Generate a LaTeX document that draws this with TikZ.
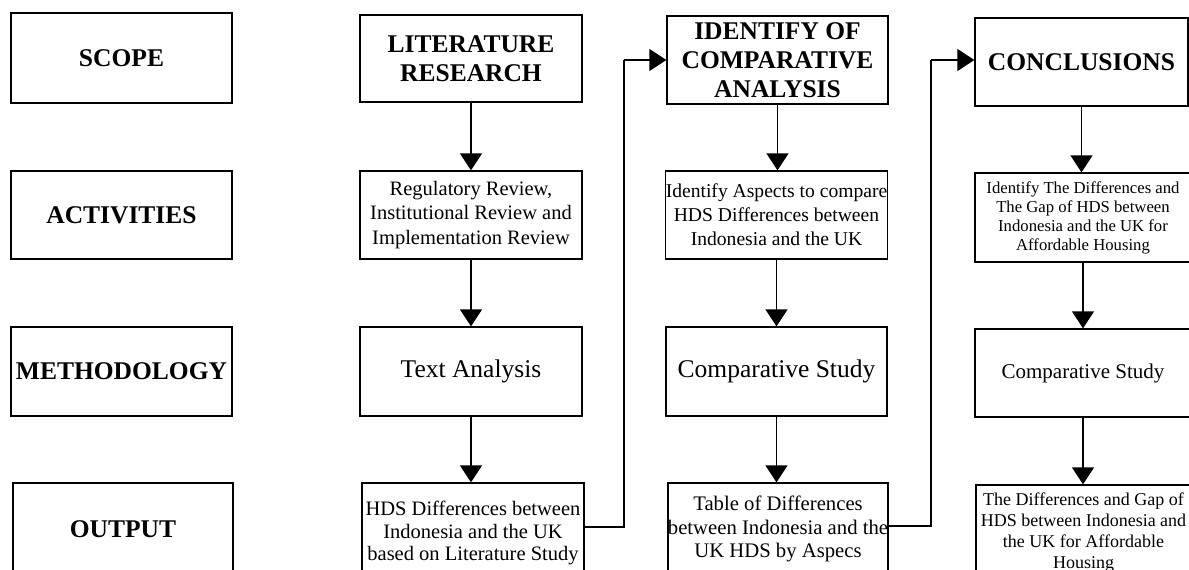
\documentclass[tikz,border=0pt]{standalone}
\usepackage{fontspec}
\setmainfont{Liberation Serif}
\usetikzlibrary{arrows.meta}
\newcommand\bx[7]{\node[box,#6,minimum width={(#3)-(#1)},minimum height={(#4)-(#2)}] (#5) at ({((#1)+(#3))/2},{((#2)+(#4))/2}) {#7};}
\tikzset{
  box/.style={draw, line width=1.3pt, inner sep=0pt, align=center},
  hd/.style={font=\bfseries\fontsize{25.5}{28.5}\selectfont},
  hdthree/.style={font=\bfseries\fontsize{25.5}{29}\selectfont},
  big/.style={font=\fontsize{25.5}{28}\selectfont},
  mid/.style={font=\fontsize{21}{24}\selectfont},
  actone/.style={font=\fontsize{20.5}{24.5}\selectfont},
  acttwo/.style={font=\fontsize{19.6}{24}\selectfont},
  actthree/.style={font=\fontsize{16.7}{19}\selectfont},
  outone/.style={font=\fontsize{20.5}{22.5}\selectfont},
  outtwo/.style={font=\fontsize{20.7}{23.5}\selectfont},
  outthree/.style={font=\fontsize{18}{21}\selectfont},
  arr/.style={line width=1.3pt, -{Triangle[width=22pt,length=17pt]}},
  conn/.style={line width=1.3pt}
}
\begin{document}
\begin{tikzpicture}[x=1pt,y=-1pt]
\useasboundingbox (0,0) rectangle (1189,570);
\clip (0,0) rectangle (1189,570);
% left column
\bx{11}{13}{232}{103}{c0r1}{hd}{SCOPE}
\bx{11}{171}{232}{259}{c0r2}{hd}{ACTIVITIES}
\bx{11}{327}{232}{416}{c0r3}{hd}{METHODOLOGY}
\bx{13}{483}{233}{575}{c0r4}{hd}{OUTPUT}
% column 1
\bx{360}{15}{582}{102}{c1r1}{hd}{LITERATURE\\RESEARCH}
\bx{360}{171}{582}{259}{c1r2}{actone}{Regulatory Review,\\Institutional Review and\\Implementation Review}
\bx{360}{327}{582}{416}{c1r3}{big}{Text Analysis}
\bx{362}{483}{584}{583}{c1r4}{outone}{HDS Differences between\\Indonesia and the UK\\based on Literature Study}
% column 2
\bx{667}{16}{888}{104}{c2r1}{hdthree}{IDENTIFY OF\\COMPARATIVE\\ANALYSIS}
\bx{666}{171}{887}{259}{c2r2}{acttwo}{Identify Aspects to compare\\HDS Differences between\\Indonesia and the UK}
\bx{666}{327}{887}{416}{c2r3}{big}{Comparative Study}
\bx{668}{483}{888}{575}{c2r4}{outtwo}{Table of Differences\\between Indonesia and the\\UK HDS by Aspecs}
% column 3
\bx{975}{18}{1188}{106}{c3r1}{hd}{CONCLUSIONS}
\bx{975}{173}{1191}{262}{c3r2}{actthree}{Identify The Differences and\\The Gap of HDS between\\Indonesia and the UK for\\Affordable Housing}
\bx{975}{329}{1191}{417}{c3r3}{mid}{Comparative Study}
\bx{976}{485}{1191}{580}{c3r4}{outthree}{The Differences and Gap of\\HDS between Indonesia and\\the UK for Affordable\\Housing}
% vertical arrows
\foreach \c in {1,2,3}{
  \draw[arr] (c\c r1.south) -- (c\c r1.south |- c\c r2.north);
  \draw[arr] (c\c r2.south) -- (c\c r2.south |- c\c r3.north);
  \draw[arr] (c\c r3.south) -- (c\c r3.south |- c\c r4.north);
}
% cross connectors
\coordinate (ja) at (624,527);
\coordinate (jb) at (624,60);
\coordinate (ka) at (931,526);
\coordinate (kb) at (931,60);
\draw[conn] (c1r4.east |- ja) -- (ja) -- (jb);
\draw[arr] (jb) -- (c2r1.west |- jb);
\draw[conn] (c2r4.east |- ka) -- (ka) -- (kb);
\draw[arr] (kb) -- (c3r1.west |- kb);
\end{tikzpicture}
\end{document}
